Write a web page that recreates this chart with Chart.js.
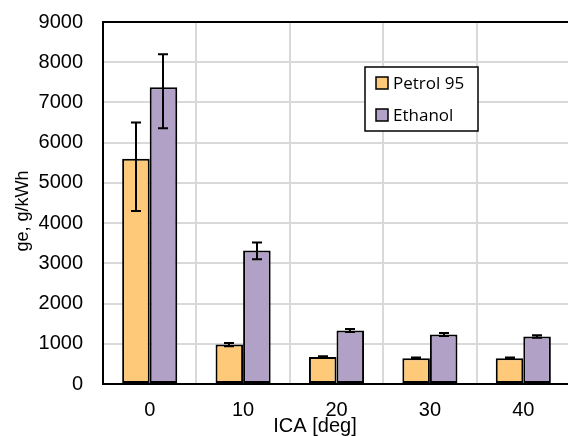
<!DOCTYPE html>
<html>
<head>
<meta charset="utf-8">
<script src="https://cdn.jsdelivr.net/npm/chart.js@4.4.1/dist/chart.umd.min.js"></script>
<style>
  html, body { margin: 0; padding: 0; background: #fff; overflow: hidden; }
  #wrap { width: 572px; height: 436px; }
</style>
</head>
<body>
<div id="wrap"><canvas id="chart" width="572" height="436"></canvas></div>
<script>
// ICA sweep, specific fuel consumption
const categories = ['0', '10', '20', '30', '40'];
const petrol = [5600, 980, 670, 640, 640];
const ethanol = [7380, 3320, 1330, 1230, 1180];
// error bar extents below / above each bar
const petrolErrLow = [1300, 40, 20, 20, 20];
const petrolErrHigh = [900, 40, 20, 20, 20];
const ethanolErrLow = [1020, 220, 40, 35, 30];
const ethanolErrHigh = [820, 200, 40, 35, 30];
const yTicks = [0, 1000, 2000, 3000, 4000, 5000, 6000, 7000, 8000, 9000];

const TICK_FONT = { family: 'Liberation Sans, Arial, sans-serif', size: 20 };
const GRID = '#d9d9d9';

// draws error bars, the legend box and the axis titles
const extras = {
  id: 'extras',
  afterDatasetsDraw(chart) {
    const ctx = chart.ctx;
    const y = chart.scales.y;
    const errs = [[petrolErrLow, petrolErrHigh], [ethanolErrLow, ethanolErrHigh]];
    ctx.save();
    ctx.strokeStyle = '#000';
    ctx.lineWidth = 2;
    chart.data.datasets.forEach((ds, i) => {
      const meta = chart.getDatasetMeta(i);
      meta.data.forEach((bar, j) => {
        const v = ds.data[j];
        const yLo = y.getPixelForValue(v - errs[i][0][j]);
        const yHi = y.getPixelForValue(v + errs[i][1][j]);
        const x = Math.round(bar.x);
        ctx.beginPath();
        ctx.moveTo(x, yLo); ctx.lineTo(x, yHi);
        ctx.moveTo(x - 5, yLo); ctx.lineTo(x + 5, yLo);
        ctx.moveTo(x - 5, yHi); ctx.lineTo(x + 5, yHi);
        ctx.stroke();
      });
    });
    ctx.restore();
  },
  afterDraw(chart) {
    const ctx = chart.ctx;
    const area = chart.chartArea;
    ctx.save();
    // top frame line
    ctx.strokeStyle = '#000';
    ctx.lineWidth = 2;
    ctx.beginPath();
    ctx.moveTo(area.left, area.top);
    ctx.lineTo(area.right, area.top);
    ctx.stroke();

    // legend
    ctx.fillStyle = '#fff';
    ctx.fillRect(365, 67, 113, 64);
    ctx.lineWidth = 1.5;
    ctx.strokeRect(365, 67, 113, 64);
    ctx.font = '17px "Open Sans", Lato, sans-serif';
    ctx.textBaseline = 'middle';
    chart.data.datasets.forEach((ds, i) => {
      const cy = 83 + i * 32;
      ctx.fillStyle = ds.backgroundColor;
      ctx.fillRect(376, cy - 6, 12, 12);
      ctx.lineWidth = 1.5;
      ctx.strokeStyle = '#000';
      ctx.strokeRect(376, cy - 6, 12, 12);
      ctx.fillStyle = '#000';
      ctx.fillText(ds.label, 393, cy + 1);
    });

    // axis titles
    ctx.fillStyle = '#000';
    ctx.textAlign = 'center';
    ctx.textBaseline = 'alphabetic';
    ctx.font = '20px Liberation Sans, Arial, sans-serif';
    ctx.fillText('ICA [deg]', 315, 432);
    ctx.translate(28, 211);
    ctx.rotate(-Math.PI / 2);
    ctx.font = '18px Liberation Sans, Arial, sans-serif';
    ctx.fillText('ge, g/kWh', 0, 0);
    ctx.restore();
  }
};

new Chart(document.getElementById('chart'), {
  type: 'bar',
  data: {
    labels: categories,
    datasets: [
      {
        label: 'Petrol 95',
        data: petrol,
        backgroundColor: '#FFC97A',
        borderColor: '#000',
        borderWidth: 2,
        borderSkipped: false,
        categoryPercentage: 0.59,
        barPercentage: 1
      },
      {
        label: 'Ethanol',
        data: ethanol,
        backgroundColor: '#B1A1C7',
        borderColor: '#000',
        borderWidth: 2,
        borderSkipped: false,
        categoryPercentage: 0.59,
        barPercentage: 1
      }
    ]
  },
  options: {
    responsive: false,
    animation: false,
    layout: { padding: { top: 22, right: 2, left: 0, bottom: 0 } },
    plugins: {
      legend: { display: false },
      tooltip: { enabled: false }
    },
    scales: {
      x: {
        grid: { color: GRID, lineWidth: 2, drawTicks: false, offset: true },
        border: { color: '#000', width: 2 },
        ticks: { color: '#000', font: TICK_FONT, padding: 14 },
        afterFit(scale) { scale.height = 52; }
      },
      y: {
        min: 0,
        max: 9000,
        afterBuildTicks(scale) { scale.ticks = yTicks.map(v => ({ value: v })); },
        grid: { color: GRID, lineWidth: 2, drawTicks: false },
        border: { color: '#000', width: 2 },
        ticks: { color: '#000', font: TICK_FONT, padding: 20, callback: v => String(v) },
        afterFit(scale) {
          scale.width = 103;
          scale.paddingTop = 0;
          scale.paddingBottom = 0;
        }
      }
    }
  },
  plugins: [extras]
});
</script>
</body>
</html>
